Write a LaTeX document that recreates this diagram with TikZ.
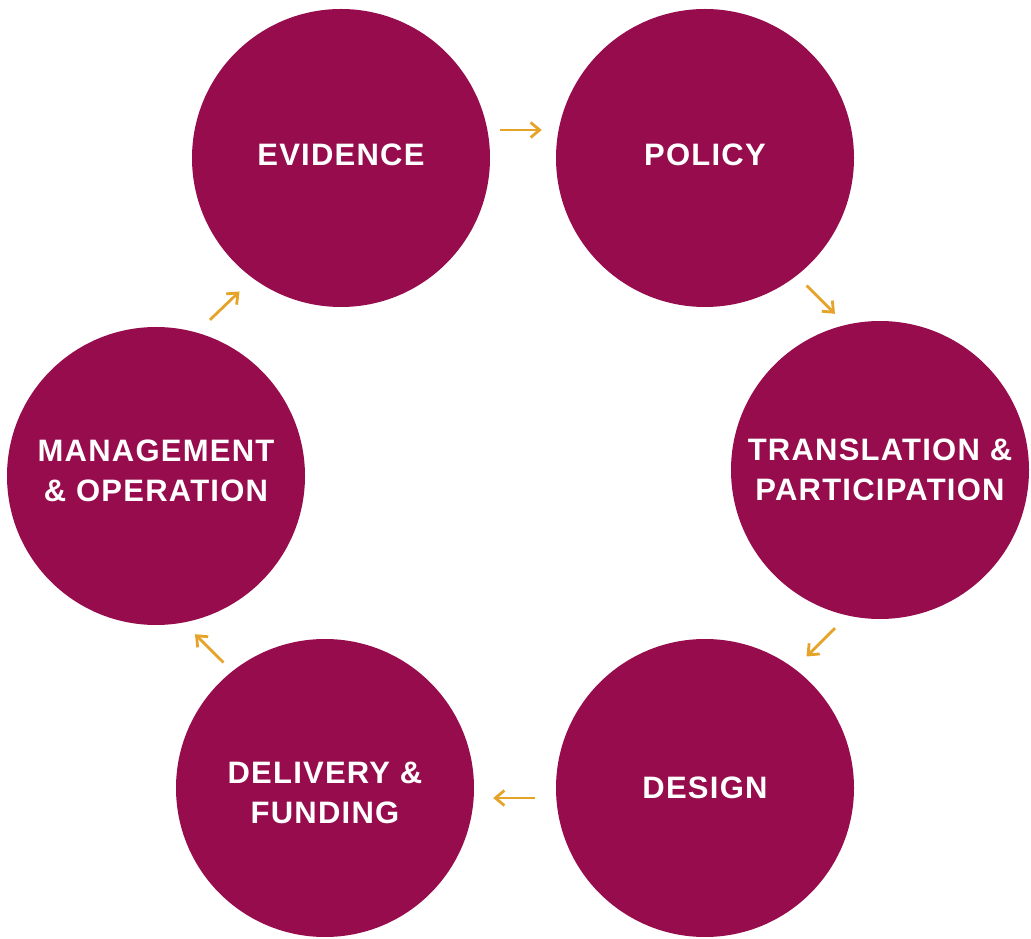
\documentclass[tikz,border=0pt]{standalone}
\usepackage{fontspec}
\usepackage{xcolor}
\usetikzlibrary{arrows.meta,positioning,calc}
\newfontfamily\stagefont[LetterSpace=4]{Liberation Sans}
\definecolor{plum}{RGB}{150,12,76}
\definecolor{amber}{RGB}{229,163,42}
\tikzset{
  stage/.style={circle, fill=plum, minimum size=298pt, inner sep=0pt,
    text=white, align=center,
    font=\stagefont\bfseries\fontsize{31}{40}\selectfont},
  flow/.style={-{Straight Barb[length=9pt,width=15pt]}, line width=2.8pt, amber}
}

\begin{document}
\begin{tikzpicture}[x=1pt,y=1pt]
    \useasboundingbox (0,0) rectangle (1031,938);

    % Stages of the cycle
    \node[stage, text depth=6pt] (ev) at (341,780) {EVIDENCE};
    \node[stage, text depth=6pt] (po) at (705,780) {POLICY};
    \node[stage] (tr) at (880,468) {TRANSLATION \&\\PARTICIPATION};
    \node[stage] (de) at (705,150) {DESIGN};
    \node[stage, text height=70pt, text depth=0pt] (dl) at (325,150) {DELIVERY \&\\FUNDING};
    \node[stage, text depth=10pt] (mg) at (156,462) {MANAGEMENT\\\& OPERATION};

    % Arrows between stages
    \draw[flow] ([shift={(10,28)}]ev.east) -- ([shift={(-14,28)}]po.west);
    \draw[flow] ([shift={(-4,-22)}]po.south east) -- ([shift={(-45,7)}]tr.north);
    \draw[flow] ([shift={(-45,-9)}]tr.south) -- ([shift={(-4,26)}]de.north east);
    \draw[flow] ([shift={(-21,-10)}]de.west) -- ([shift={(19,-10)}]dl.east);
    \draw[flow] ([shift={(4,20)}]dl.north west) -- ([shift={(39,-9)}]mg.south);
    \draw[flow] ([shift={(54,7)}]mg.north) -- ([shift={(4,-28)}]ev.south west);
\end{tikzpicture}
\end{document}
